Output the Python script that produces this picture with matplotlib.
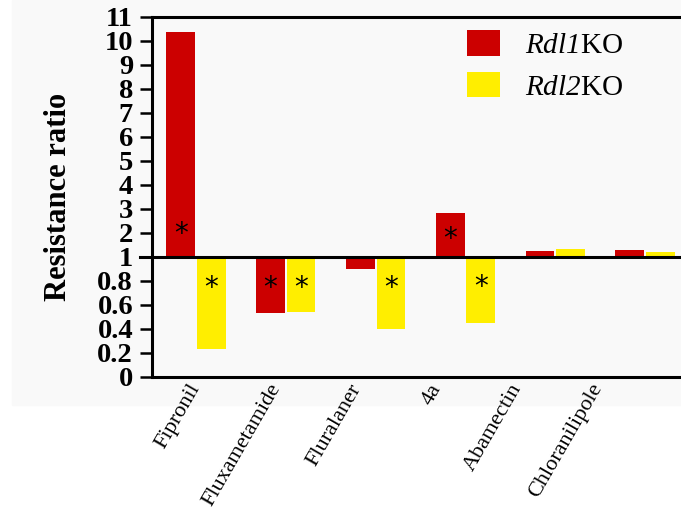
import numpy as np
import matplotlib
matplotlib.use("Agg")
import matplotlib.pyplot as plt
from matplotlib.patches import Rectangle

plt.rcParams["font.family"] = ["Liberation Serif", "DejaVu Serif"]
plt.rcParams["mathtext.fontset"] = "custom"
plt.rcParams["mathtext.rm"] = "Liberation Serif"
plt.rcParams["mathtext.sf"] = "Liberation Serif:italic"

# Resistance ratios relative to wild type
compounds = ["Fipronil", "Fluxametamide", "Fluralaner", "4a", "Abamectin", "Chloranilipole"]
rdl1_ko = [10.38, 0.53, 0.90, 2.85, 1.25, 1.29]
rdl2_ko = [0.23, 0.54, 0.40, 0.45, 1.35, 1.20]
# significance marks (height of the asterisk, None = not significant)
rdl1_sig = [1.95, 0.74, None, 1.75, None, None]
rdl2_sig = [0.74, 0.74, 0.74, 0.75, None, None]
series_labels = [r"$\mathsf{Rdl1}$KO", r"$\mathsf{Rdl2}$KO"]

ytick_values = [0, 0.2, 0.4, 0.6, 0.8, 1, 2, 3, 4, 5, 6, 7, 8, 9, 10, 11]
ytick_labels = ["0", "0.2", "0.4", "0.6", "0.8", "1", "2", "3", "4", "5",
                "6", "7", "8", "9", "10", "11"]

RED = "#cc0000"
YELLOW = "#ffee00"


# broken scale: 0-1 stretched five times, 1-11 linear
def fwd(v):
    v = np.asarray(v, dtype=float)
    return np.where(v <= 1, 5 * v, v + 4)


def inv(u):
    u = np.asarray(u, dtype=float)
    return np.where(u <= 5, u / 5, u - 4)


W, H = 681, 512
fig = plt.figure(figsize=(W / 100, H / 100), dpi=100)
fig.patch.set_facecolor("white")
fig.patches.append(Rectangle((12 / W, 1 - 405 / H), 1 - 12 / W, 405 / H,
                             transform=fig.transFigure, color="#f9f9f9",
                             zorder=-10))

ax = fig.add_axes([152 / W, 1 - 377 / H, 1 - 152 / W, 360 / H])
ax.set_facecolor("none")
ax.set_yscale("function", functions=(fwd, inv))
ax.set_ylim(0, 11)

x = np.arange(len(compounds))
bw = 0.32
off = 0.17
r1 = np.array(rdl1_ko)
r2 = np.array(rdl2_ko)
ax.bar(x - off, r1 - 1, bottom=1, width=bw, color=RED, label=series_labels[0],
       zorder=2)
ax.bar(x + off, r2 - 1, bottom=1, width=bw, color=YELLOW, label=series_labels[1],
       zorder=2)

for i in range(len(compounds)):
    if rdl1_sig[i] is not None:
        ax.text(x[i] - off, rdl1_sig[i], "*", ha="center", va="center",
                fontsize=20, color="black", zorder=4, family="DejaVu Sans")
    if rdl2_sig[i] is not None:
        ax.text(x[i] + off, rdl2_sig[i], "*", ha="center", va="center",
                fontsize=20, color="black", zorder=4, family="DejaVu Sans")

ax.axhline(1, xmin=-0.023, color="black", lw=2.2, zorder=3, clip_on=False)

# category labels sit slightly tighter than the bar groups
ax.set_xlim(-0.49, 5.4)
ax.set_xticks(x * 0.895)
ax.set_xticklabels(compounds, rotation=60, ha="right", va="center",
                   rotation_mode="anchor", fontsize=16)
ax.tick_params(axis="x", length=0, pad=6)

ax.set_yticks(ytick_values)
ax.set_yticklabels(ytick_labels, fontsize=20.5, fontweight="bold")
ax.yaxis.set_minor_locator(matplotlib.ticker.NullLocator())
ax.tick_params(axis="y", length=8.6, width=1.8, pad=5, direction="out")

ax.set_ylabel("Resistance ratio", fontsize=22, fontweight="bold")
ax.yaxis.set_label_coords(-0.15, 0.5)

for s in ["left", "top", "bottom"]:
    ax.spines[s].set_linewidth(2.2)
ax.spines["right"].set_visible(False)

ax.legend(loc="upper left", bbox_to_anchor=(467 / W, 1 - 30 / H),
          bbox_transform=fig.transFigure, frameon=False, fontsize=21,
          handlelength=1.14, handleheight=0.97, handletextpad=0.85,
          labelspacing=0.45, borderpad=0, borderaxespad=0)

fig.savefig("out.png", dpi=100)
